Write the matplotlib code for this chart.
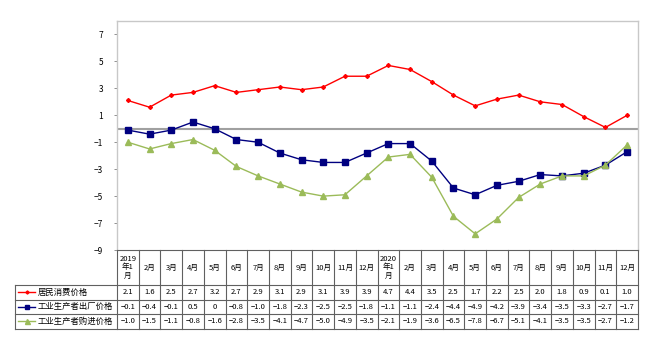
import matplotlib

matplotlib.use("Agg")
import matplotlib.pyplot as plt

plt.rcParams["font.family"] = ["Noto Sans CJK SC", "DejaVu Sans"]

months = ["2019\n年1\n月", "2月", "3月", "4月", "5月", "6月", "7月", "8月", "9月", "10月", "11月", "12月",
          "2020\n年1\n月", "2月", "3月", "4月", "5月", "6月", "7月", "8月", "9月", "10月", "11月", "12月"]
cpi = [2.1, 1.6, 2.5, 2.7, 3.2, 2.7, 2.9, 3.1, 2.9, 3.1, 3.9, 3.9,
       4.7, 4.4, 3.5, 2.5, 1.7, 2.2, 2.5, 2.0, 1.8, 0.9, 0.1, 1.0]
ppi = [-0.1, -0.4, -0.1, 0.5, 0, -0.8, -1.0, -1.8, -2.3, -2.5, -2.5, -1.8,
       -1.1, -1.1, -2.4, -4.4, -4.9, -4.2, -3.9, -3.4, -3.5, -3.3, -2.7, -1.7]
ppirm = [-1.0, -1.5, -1.1, -0.8, -1.6, -2.8, -3.5, -4.1, -4.7, -5.0, -4.9, -3.5,
         -2.1, -1.9, -3.6, -6.5, -7.8, -6.7, -5.1, -4.1, -3.5, -3.5, -2.7, -1.2]
labels = ["居民消费价格", "工业生产者出厂价格", "工业生产者购进价格"]
yticks = [-9, -7, -5, -3, -1, 1, 3, 5, 7]

series = [
    (cpi, "#ff0000", "D", 2.0),
    (ppi, "#000080", "s", 4.0),
    (ppirm, "#9bbb59", "^", 4.5),
]

W, H = 659, 352
fig = plt.figure(figsize=(W / 100, H / 100), dpi=100)

# plot area in pixels
x0, x1 = 117, 638
y_top, y_bot = 21, 250
ax = fig.add_axes([x0 / W, 1 - y_bot / H, (x1 - x0) / W, (y_bot - y_top) / H])

xs = list(range(len(months)))
for values, color, marker, size in series:
    ax.plot(xs, values, color=color, marker=marker, markersize=size, linewidth=1.0)

ax.axhline(0, color="#a0a0a0", linewidth=1.5, zorder=0)
ax.set_xlim(-0.5, len(months) - 0.5)
ax.set_ylim(-9, 8)
ax.set_yticks(yticks)
ax.set_yticklabels([str(v) if v >= 0 else "\u2212" + str(-v) for v in yticks], fontsize=6)
ax.tick_params(axis="y", length=2, width=0.6, colors="#808080", labelcolor="black", pad=8)
ax.set_xticks([])
for side in ["left", "top", "right"]:
    ax.spines[side].set_color("#c8c8c8")
    ax.spines[side].set_linewidth(1.0)
ax.spines["bottom"].set_visible(False)

# table drawn in pixel coordinates
tax = fig.add_axes([0, 0, 1, 1])
tax.set_xlim(0, W)
tax.set_ylim(H, 0)
tax.axis("off")

col_w = (x1 - x0) / len(months)
row_edges = [250, 285, 299.5, 314, 328.5]
leg_x0 = 15
line_kw = dict(color="#606060", linewidth=0.8)

tax.plot([x0, x1], [row_edges[0]] * 2, **line_kw)
for y in row_edges[1:]:
    tax.plot([leg_x0, x1], [y, y], **line_kw)
for i in range(len(months) + 1):
    tax.plot([x0 + i * col_w] * 2, [row_edges[0], row_edges[-1]], **line_kw)
tax.plot([leg_x0, leg_x0], [row_edges[1], row_edges[-1]], **line_kw)

for i, m in enumerate(months):
    cx = x0 + (i + 0.5) * col_w
    tax.text(cx, (row_edges[0] + row_edges[1]) / 2, m, ha="center", va="center",
             fontsize=5.5, linespacing=1.1)

for r, ((values, color, marker, size), name) in enumerate(zip(series, labels)):
    cy = (row_edges[r + 1] + row_edges[r + 2]) / 2
    tax.plot([18, 35], [cy, cy], color=color, linewidth=1.0)
    tax.plot([26.5], [cy], color=color, marker=marker, markersize=size * 0.8)
    tax.text(38, cy, name, ha="left", va="center", fontsize=6)
    for i, v in enumerate(values):
        txt = "0" if v == 0 else "{0:.1f}".format(v).replace("-", "\u2212")
        tax.text(x0 + (i + 0.5) * col_w, cy, txt, ha="center", va="center", fontsize=5.5)

fig.savefig("out.png", dpi=100)
